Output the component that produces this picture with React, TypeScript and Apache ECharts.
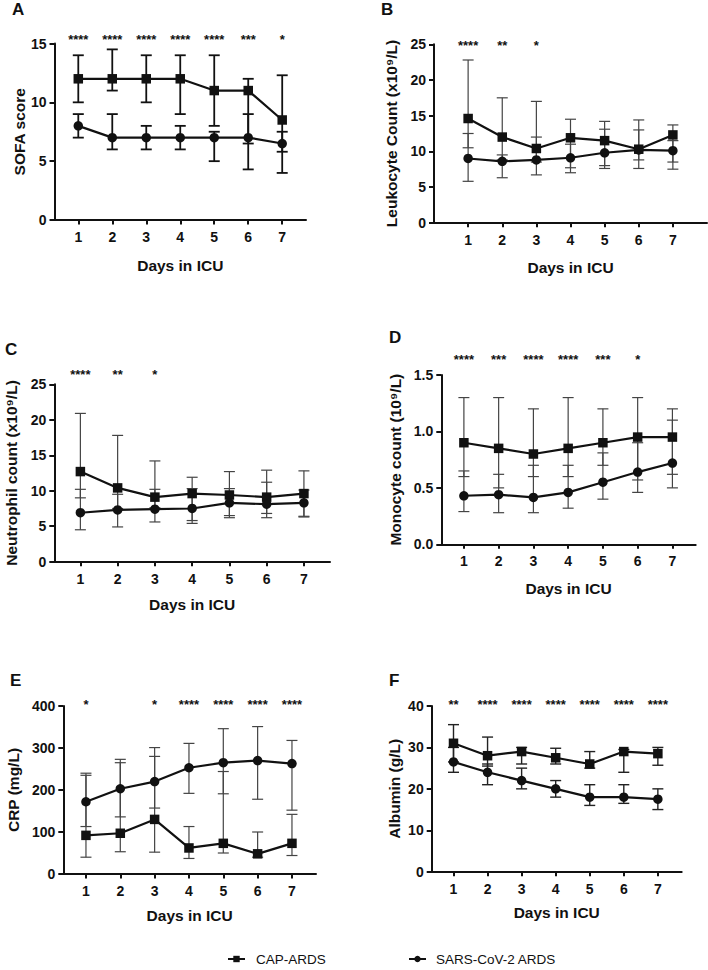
import React, { useEffect, useRef } from "react";
import * as echarts from "echarts";

const days = [1, 2, 3, 4, 5, 6, 7];
const capName = "CAP-ARDS";
const sarsName = "SARS-CoV-2 ARDS";

// A: SOFA score
const sofaCap = [12, 12, 12, 12, 11, 11, 8.5];
const sofaCapLo = [10, 11, 10, 9, 8, 6.5, 5.8];
const sofaCapHi = [14, 14.5, 14, 14, 14, 12, 12.3];
const sofaSars = [8, 7, 7, 7, 7, 7, 6.5];
const sofaSarsLo = [7, 6, 6, 6, 5, 4.3, 4];
const sofaSarsHi = [9, 9, 8, 8, 7.5, 9, 7.5];
const sofaStars = ["****", "****", "****", "****", "****", "***", "*"];

// B: Leukocyte count
const wbcCap = [14.6, 12, 10.4, 11.9, 11.5, 10.3, 12.3];
const wbcCapLo = [10.5, 8.8, 8.5, 7.7, 8.0, 8.8, 8.5];
const wbcCapHi = [22.8, 17.5, 17, 14.5, 14.2, 14.4, 13.7];
const wbcSars = [9, 8.6, 8.8, 9.1, 9.8, 10.2, 10.1];
const wbcSarsLo = [5.8, 6.3, 6.7, 7, 7.6, 7.6, 7.5];
const wbcSarsHi = [12.5, 9.5, 12, 11, 13.1, 13, 11.5];
const wbcStars = ["****", "**", "*", "", "", "", ""];

// C: Neutrophil count
const neuCap = [12.7, 10.4, 9.1, 9.6, 9.4, 9.1, 9.6];
const neuCapLo = [9.0, 7.5, 7.6, 5.8, 6.5, 6.8, 6.4];
const neuCapHi = [20.9, 17.8, 14.2, 11.9, 12.7, 12.9, 12.8];
const neuSars = [6.9, 7.3, 7.4, 7.5, 8.3, 8.1, 8.3];
const neuSarsLo = [4.5, 4.9, 5.6, 5.4, 6.2, 6.2, 6.3];
const neuSarsHi = [10.2, 9.5, 10.2, 10.3, 10.3, 11.2, 10.1];
const neuStars = ["****", "**", "*", "", "", "", ""];

// D: Monocyte count
const monoCap = [0.9, 0.85, 0.8, 0.85, 0.9, 0.95, 0.95];
const monoCapLo = [0.6, 0.5, 0.6, 0.6, 0.7, 0.57, 0.62];
const monoCapHi = [1.3, 1.3, 1.2, 1.3, 1.2, 1.3, 1.2];
const monoSars = [0.43, 0.44, 0.415, 0.46, 0.55, 0.64, 0.72];
const monoSarsLo = [0.29, 0.28, 0.28, 0.32, 0.4, 0.46, 0.5];
const monoSarsHi = [0.65, 0.62, 0.7, 0.7, 0.81, 0.9, 1.1];
const monoStars = ["****", "***", "****", "****", "***", "*", ""];

// E: CRP
const crpCap = [92, 97, 130, 62, 73, 48, 73];
const crpCapLo = [40, 53, 52, 37, 50, 40, 44];
const crpCapHi = [235, 265, 280, 113, 244, 100, 142];
const crpSars = [172, 203, 220, 253, 265, 270, 263];
const crpSarsLo = [113, 136, 157, 192, 191, 178, 152];
const crpSarsHi = [240, 273, 301, 311, 346, 351, 318];
const crpStars = ["*", "", "*", "****", "****", "****", "****"];

// F: Albumin
const albCap = [31, 28, 29, 27.5, 26, 29, 28.5];
const albCapLo = [26.5, 25.5, 26, 26, 25, 24, 25.7];
const albCapHi = [35.5, 32.5, 30, 29.8, 29, 29.5, 30];
const albSars = [26.5, 24, 22, 20, 18, 18, 17.5];
const albSarsLo = [24, 21, 20, 18, 16, 16.5, 15];
const albSarsHi = [30, 26, 25, 22, 21, 21, 20];
const albStars = ["**", "****", "****", "****", "****", "****", "****"];

const FONT = "'Liberation Sans', Arial, Helvetica, sans-serif";

type Panel = {
  letter: string;
  lx: number;
  ly: number;
  grid: { left: number; top: number; width: number; height: number };
  xMin: number;
  xMax: number;
  yMax: number;
  yInt: number;
  dec: number;
  yName: string;
  yGap: number;
  xGap: number;
  cap: number[];
  capLo: number[];
  capHi: number[];
  sars: number[];
  sarsLo: number[];
  sarsHi: number[];
  stars: string[];
  starOff: number;
  errW: number;
  errC: string;
};

const panels: Panel[] = [
  {
    letter: "A", lx: 12, ly: 1,
    grid: { left: 54.5, top: 43.5, width: 251.5, height: 176.5 },
    xMin: 0.3, xMax: 7.7, yMax: 15, yInt: 5, dec: 0,
    yName: "SOFA score", yGap: 27, xGap: 37,
    cap: sofaCap, capLo: sofaCapLo, capHi: sofaCapHi,
    sars: sofaSars, sarsLo: sofaSarsLo, sarsHi: sofaSarsHi,
    stars: sofaStars, starOff: -4.5, errW: 1.8, errC: "#111",
  },
  {
    letter: "B", lx: 381, ly: 1,
    grid: { left: 434, top: 44.3, width: 273, height: 178.4 },
    xMin: 0, xMax: 8, yMax: 25, yInt: 5, dec: 0,
    yName: "Leukocyte Count (x10⁹/L)", yGap: 35, xGap: 37,
    cap: wbcCap, capLo: wbcCapLo, capHi: wbcCapHi,
    sars: wbcSars, sarsLo: wbcSarsLo, sarsHi: wbcSarsHi,
    stars: wbcStars, starOff: 1.4, errW: 1.2, errC: "#444",
  },
  {
    letter: "C", lx: 5, ly: 340.5,
    grid: { left: 54.3, top: 384.3, width: 275.7, height: 177.4 },
    xMin: 0.3, xMax: 7.7, yMax: 25, yInt: 5, dec: 0,
    yName: "Neutrophil count (x10⁹/L)", yGap: 34.5, xGap: 35,
    cap: neuCap, capLo: neuCapLo, capHi: neuCapHi,
    sars: neuSars, sarsLo: neuSarsLo, sarsHi: neuSarsHi,
    stars: neuStars, starOff: -10.3, errW: 1.2, errC: "#444",
  },
  {
    letter: "D", lx: 389, ly: 329,
    grid: { left: 441.3, top: 375, width: 254.4, height: 169.3 },
    xMin: 0.35, xMax: 7.67, yMax: 1.5, yInt: 0.5, dec: 1,
    yName: "Monocyte count (10⁹/L)", yGap: 37.5, xGap: 36,
    cap: monoCap, capLo: monoCapLo, capHi: monoCapHi,
    sars: monoSars, sarsLo: monoSarsLo, sarsHi: monoSarsHi,
    stars: monoStars, starOff: -16, errW: 1.2, errC: "#444",
  },
  {
    letter: "E", lx: 10, ly: 672,
    grid: { left: 63.3, top: 706, width: 252.7, height: 168 },
    xMin: 0.34, xMax: 7.7, yMax: 400, yInt: 100, dec: 0,
    yName: "CRP (mg/L)", yGap: 42, xGap: 33,
    cap: crpCap, capLo: crpCapLo, capHi: crpCapHi,
    sars: crpSars, sarsLo: crpSarsLo, sarsHi: crpSarsHi,
    stars: crpStars, starOff: -2, errW: 1.2, errC: "#444",
  },
  {
    letter: "F", lx: 389, ly: 672,
    grid: { left: 431.7, top: 706, width: 250, height: 165.7 },
    xMin: 0.36, xMax: 7.7, yMax: 40, yInt: 10, dec: 0,
    yName: "Albumin (g/L)", yGap: 29.5, xGap: 33,
    cap: albCap, capLo: albCapLo, capHi: albCapHi,
    sars: albSars, sarsLo: albSarsLo, sarsHi: albSarsHi,
    stars: albStars, starOff: -2, errW: 1.4, errC: "#222",
  },
];

function errSeries(idx: number, lo: number[], hi: number[], w: number, c: string) {
  return {
    type: "custom",
    xAxisIndex: idx,
    yAxisIndex: idx,
    z: 1,
    silent: true,
    data: days.map((d, i) => [d, lo[i], hi[i]]),
    renderItem: (params: any, api: any) => {
      const x = api.value(0);
      const pLo = api.coord([x, api.value(1)]);
      const pHi = api.coord([x, api.value(2)]);
      const hw = 5.5;
      const style = { stroke: c, lineWidth: w };
      return {
        type: "group",
        children: [
          { type: "line", shape: { x1: pHi[0], y1: pHi[1], x2: pLo[0], y2: pLo[1] }, style },
          { type: "line", shape: { x1: pHi[0] - hw, y1: pHi[1], x2: pHi[0] + hw, y2: pHi[1] }, style },
          { type: "line", shape: { x1: pLo[0] - hw, y1: pLo[1], x2: pLo[0] + hw, y2: pLo[1] }, style },
        ],
      };
    },
  };
}

function starSeries(idx: number, p: Panel) {
  return {
    type: "custom",
    xAxisIndex: idx,
    yAxisIndex: idx,
    silent: true,
    clip: false,
    data: days.map((d) => [d, p.yMax]),
    renderItem: (params: any, api: any) => {
      const pt = api.coord([api.value(0), api.value(1)]);
      return {
        type: "text",
        x: pt[0],
        y: pt[1] + p.starOff,
        style: {
          text: p.stars[params.dataIndex],
          fill: "#111",
          font: `bold 13px ${FONT}`,
          align: "center",
          verticalAlign: "middle",
        },
      };
    },
  };
}

export default function App() {
  const ref = useRef<HTMLDivElement>(null);
  useEffect(() => {
    if (!ref.current) return;
    const chart = echarts.init(ref.current, null, { renderer: "svg" });
    const labelStyle = { color: "#111", fontWeight: "bold", fontSize: 14, fontFamily: FONT };
    const nameStyle = { color: "#111", fontWeight: "bold", fontSize: 15.5, fontFamily: FONT };
    const axisLine = { show: true, onZero: false, lineStyle: { color: "#111", width: 2 } };
    const series: any[] = [];
    panels.forEach((p, i) => {
      series.push(errSeries(i, p.capLo, p.capHi, p.errW, p.errC));
      series.push(errSeries(i, p.sarsLo, p.sarsHi, p.errW, p.errC));
      series.push({
        name: capName, type: "line", xAxisIndex: i, yAxisIndex: i, z: 3,
        data: days.map((d, k) => [d, p.cap[k]]),
        symbol: "rect", symbolSize: 9.5,
        itemStyle: { color: "#111" },
        lineStyle: { color: "#111", width: 2.2 },
      });
      series.push({
        name: sarsName, type: "line", xAxisIndex: i, yAxisIndex: i, z: 3,
        data: days.map((d, k) => [d, p.sars[k]]),
        symbol: "circle", symbolSize: 9.5,
        itemStyle: { color: "#111" },
        lineStyle: { color: "#111", width: 2.2 },
      });
      series.push(starSeries(i, p));
    });
    chart.setOption({
      animation: false,
      backgroundColor: "#fff",
      grid: panels.map((p) => ({ ...p.grid, containLabel: false })),
      xAxis: panels.map((p, i) => ({
        type: "value", gridIndex: i, min: p.xMin, max: p.xMax,
        name: "Days in ICU", nameLocation: "middle", nameGap: p.xGap, nameTextStyle: nameStyle,
        axisLine,
        axisTick: { show: true, customValues: days, length: 4.5, lineStyle: { color: "#111", width: 2 } },
        axisLabel: { ...labelStyle, customValues: days, margin: 10 },
        splitLine: { show: false },
      })),
      yAxis: panels.map((p, i) => ({
        type: "value", gridIndex: i, min: 0, max: p.yMax, interval: p.yInt,
        name: p.yName, nameLocation: "middle", nameRotate: 90, nameGap: p.yGap, nameTextStyle: nameStyle,
        axisLine,
        axisTick: { show: true, length: 5, lineStyle: { color: "#111", width: 2 } },
        axisLabel: { ...labelStyle, margin: 8, formatter: (v: number) => v.toFixed(p.dec) },
        splitLine: { show: false },
      })),
      legend: [
        {
          data: [capName], left: 222, top: 947, itemWidth: 17, itemHeight: 8,
          textStyle: { color: "#111", fontSize: 13.5, fontFamily: FONT, padding: [0, 0, 0, 6] },
        },
        {
          data: [sarsName], left: 403, top: 947, itemWidth: 17, itemHeight: 8,
          textStyle: { color: "#111", fontSize: 13.5, fontFamily: FONT, padding: [0, 0, 0, 5] },
        },
      ],
      graphic: panels.map((p) => ({
        type: "text", left: p.lx, top: p.ly,
        style: { text: p.letter, fill: "#111", font: `bold 17px ${FONT}` },
      })),
      series,
    });
    return () => chart.dispose();
  }, []);
  return (
    <div
      ref={ref}
      style={{ position: "absolute", left: 0, top: 0, width: 708, height: 970, background: "#fff" }}
    />
  );
}
